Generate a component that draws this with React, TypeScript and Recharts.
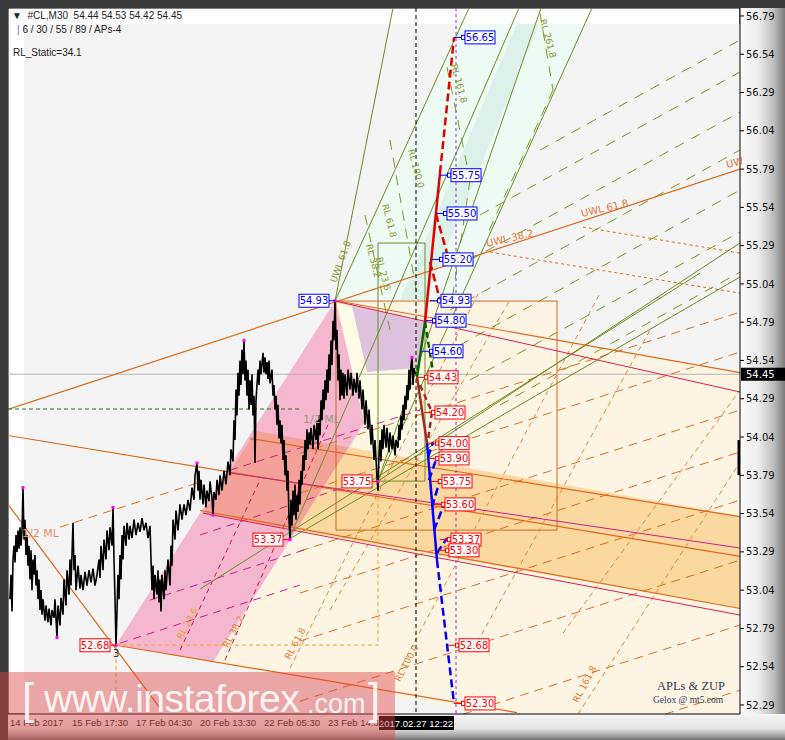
import React from 'react';
import {
  ComposedChart,
  XAxis,
  YAxis,
  Line,
  Area,
  ReferenceLine,
  ReferenceArea,
  ReferenceDot,
} from 'recharts';

// price scale of the window (top / bottom of the plot)
const PRICE_TOP = 56.842;
const PRICE_BOTTOM = 52.231;

const yTicks = [
  56.79, 56.54, 56.29, 56.04, 55.79, 55.54, 55.29, 55.04, 54.79, 54.54, 54.29, 54.04, 53.79, 53.54,
  53.29, 53.04, 52.79, 52.54, 52.29,
];
const xTickPos = [8, 70, 134, 198, 262, 326];
const xTickText = ['14 Feb 2017', '15 Feb 17:30', '17 Feb 04:30', '20 Feb 13:30', '22 Feb 05:30', '23 Feb 14:30'];
const lastPrice = 54.45;

// M30 closes, [bar position, price]
const priceBars: [number, number][] = [
  [10, 52.98], [11, 53.14], [12, 52.9], [13, 53.24], [14, 53.33], [15, 53.22], [16, 53.4], [17, 53.29],
  [18, 53.43], [19, 53.31], [20, 53.45], [21, 53.33], [22, 53.43], [23, 53.71], [24, 53.37], [25, 53.5],
  [26, 53.27], [27, 53.4], [28, 53.2], [29, 53.33], [30, 53.11], [31, 53.3], [32, 53.04], [33, 53.24],
  [34, 53.14], [35, 53.27], [36, 53.07], [37, 53.17], [38, 52.98], [39, 53.11], [40, 52.91], [41, 53.04],
  [42, 52.88], [43, 52.98], [45, 52.84], [46, 52.94], [48, 52.83], [49, 52.92], [51, 52.81], [52, 52.91],
  [54, 52.86], [55, 52.98], [57, 52.73], [58, 52.94], [60, 52.81], [61, 52.99], [63, 52.88], [64, 53.11],
  [66, 52.94], [67, 53.17], [69, 53.01], [70, 53.24], [71, 53.07], [73, 53.48], [74, 53.17], [75, 53.27],
  [76, 53.04], [78, 53.2], [80, 53.05], [81, 53.14], [83, 53.04], [85, 53.16], [87, 53.07], [89, 53.17],
  [91, 53.09], [93, 53.18], [95, 53.07], [97, 53.14], [99, 53.24], [100, 53.12], [101, 53.33], [103, 53.17],
  [104, 53.37], [106, 53.24], [107, 53.43], [109, 53.3], [110, 53.45], [112, 53.33], [113, 53.58], [114, 53.24],
  [115, 52.98], [116, 52.68], [117, 52.91], [118, 53.14], [119, 52.98], [120, 53.27], [121, 53.11], [122, 53.4],
  [123, 53.24], [124, 53.46], [126, 53.33], [127, 53.48], [129, 53.37], [130, 53.46], [132, 53.38], [134, 53.5],
  [136, 53.4], [138, 53.48], [140, 53.42], [142, 53.51], [144, 53.43], [146, 53.48], [148, 53.38], [150, 53.46],
  [151, 53.24], [152, 53.04], [153, 53.2], [154, 52.98], [155, 53.14], [157, 53.01], [158, 53.17], [159, 52.96],
  [160, 53.11], [161, 52.9], [162, 53.14], [164, 52.98], [165, 53.17], [166, 53.04], [168, 53.24], [170, 53.07],
  [171, 53.33], [172, 53.2], [173, 53.5], [175, 53.37], [176, 53.56], [178, 53.43], [180, 53.6], [182, 53.5],
  [184, 53.6], [186, 53.53], [188, 53.63], [190, 53.56], [192, 53.71], [194, 53.63], [195, 53.79], [197, 53.87],
  [198, 53.69], [199, 53.82], [200, 53.63], [201, 53.76], [203, 53.6], [204, 53.73], [206, 53.58], [207, 53.69],
  [209, 53.62], [210, 53.75], [212, 53.64], [213, 53.53], [214, 53.68], [216, 53.63], [217, 53.76], [219, 53.66],
  [220, 53.79], [222, 53.69], [224, 53.82], [226, 53.73], [228, 53.88], [230, 53.79], [231, 53.96], [233, 53.88],
  [234, 54.15], [235, 54.02], [236, 54.35], [237, 54.18], [238, 54.46], [239, 54.31], [240, 54.54], [241, 54.38],
  [242, 54.61], [243, 54.45], [244, 54.67], [245, 54.41], [246, 54.54], [247, 54.31], [248, 54.48], [249, 54.22],
  [250, 54.41], [251, 54.25], [252, 54.45], [253, 54.18], [254, 54.31], [255, 53.87], [256, 54.28], [257, 54.38],
  [258, 54.48], [259, 54.38], [260, 54.54], [261, 54.45], [263, 54.59], [264, 54.46], [265, 54.56], [266, 54.45],
  [267, 54.53], [268, 54.42], [269, 54.54], [270, 54.39], [272, 54.48], [273, 54.31], [274, 54.38], [275, 54.22],
  [276, 54.31], [277, 54.12], [278, 54.25], [279, 54.03], [280, 54.15], [281, 54.0], [282, 54.12], [283, 53.89],
  [284, 54.02], [285, 53.79], [286, 53.92], [287, 53.69], [288, 53.82], [289, 53.5], [290, 53.37], [291, 53.63],
  [292, 53.46], [293, 53.69], [294, 53.53], [295, 53.73], [296, 53.5], [297, 53.66], [298, 53.55], [299, 53.76],
  [300, 53.6], [301, 53.82], [302, 53.73], [303, 53.92], [304, 53.82], [305, 54.02], [306, 53.89], [307, 54.09],
  [308, 53.96], [309, 54.07], [310, 53.99], [311, 54.1], [313, 53.96], [314, 54.12], [316, 54.02], [317, 54.15],
  [318, 53.96], [319, 54.18], [320, 54.05], [321, 54.28], [322, 54.15], [323, 54.35], [324, 54.22], [325, 54.41],
  [326, 54.28], [327, 54.48], [328, 54.33], [329, 54.58], [330, 54.41], [331, 54.67], [332, 54.51], [333, 54.8],
  [334, 54.67], [335, 54.93], [336, 54.61], [337, 54.74], [338, 54.41], [339, 54.58], [340, 54.28], [341, 54.48],
  [342, 54.31], [343, 54.46], [344, 54.29], [345, 54.45], [347, 54.31], [348, 54.48], [350, 54.35], [351, 54.46],
  [353, 54.31], [354, 54.42], [356, 54.33], [357, 54.46], [359, 54.29], [360, 54.41], [362, 54.22], [363, 54.35],
  [365, 54.12], [366, 54.28], [368, 54.09], [369, 54.22], [371, 53.99], [372, 54.12], [374, 53.89], [375, 54.02],
  [377, 53.77], [378, 53.69], [379, 53.92], [380, 54.02], [381, 53.88], [382, 54.09], [383, 53.96], [384, 54.12],
  [386, 53.97], [387, 54.1], [389, 53.94], [390, 54.07], [392, 53.96], [393, 54.05], [395, 53.92], [396, 54.02],
  [398, 53.97], [399, 54.12], [400, 54.02], [401, 54.18], [402, 54.09], [403, 54.25], [404, 54.15], [405, 54.31],
  [406, 54.22], [407, 54.38], [408, 54.28], [409, 54.48], [410, 54.35], [411, 54.51], [412, 54.56], [413, 54.38],
  [414, 54.49], [415, 54.45],
];

// swing points marked on the price
const pivots: [number, number][] = [
  [23, 53.71], [57, 52.73], [113, 53.58], [116, 52.68], [197, 53.87], [213, 53.53], [244, 54.67],
  [290, 53.37], [335, 54.93], [378, 53.75], [412, 54.56],
];

// filled zones, vertices [bar, price]
const creamZone: [number, number][] = [[116, 52.681], [336, 54.928], [557, 54.928], [557.5, 54.68], [740.5, 54.464], [741, 52.1], [600, 52.1]];
const cyanZone: [number, number][] = [[336, 54.934], [463, 56.737], [585, 56.737], [460, 54.934]];
const tealZone: [number, number][] = [[400, 54.934], [517, 56.737], [539, 56.737], [425, 54.934]];
const pinkZone: [number, number][] = [[116, 52.681], [335, 54.928], [428, 54.791], [213, 52.57]];
const salmonZone: [number, number][] = [[203, 53.543], [256, 54.079], [349, 53.974], [296, 53.432]];
const peachZone: [number, number][] = [[296, 53.432], [349, 53.974], [741, 53.524], [742, 52.916]];
const paleZone: [number, number][] = [[336, 54.921], [352, 54.895], [425, 54.49], [426, 54.216], [378, 53.752]];
const lilacZone: [number, number][] = [[352, 54.896], [425, 54.797], [417, 54.49], [367, 54.464]];

// lines: [x1, p1, x2, p2]
const orangeSolid = [
  [8, 54.22, 740, 55.79], [8, 54.05, 740, 53.26], [8, 53.6, 160, 52.27], [116, 52.68, 517, 52.24],
  [200, 53.56, 740, 52.92], [250, 54.03, 740, 53.52], [336, 54.93, 740, 54.46],
];
const orangeDashed = [
  [300, 53.935, 740, 54.856], [300, 53.674, 740, 54.595], [300, 53.295, 740, 54.216], [300, 53.021, 740, 53.942],
  [300, 52.707, 740, 53.628], [300, 52.315, 740, 53.236], [463, 52.23, 740, 52.812], [665, 52.23, 740, 52.387],
  [60, 53.452, 197, 53.739],
];
const uwlDashed = [[490, 55.248, 740, 54.98], [583, 55.411, 740, 55.241]];
const steepOrange = [
  [290, 52.531, 480, 55.0], [330, 52.91, 510, 54.935], [398, 52.498, 600, 54.98], [473, 52.648, 650, 54.739],
  [563, 52.759, 740, 54.347], [578, 52.23, 740, 53.876],
];
const steepCrimson = [[180, 52.648, 260, 53.759], [225, 52.583, 330, 54.151]];
const greenSolid = [
  [335, 54.928, 393, 56.842], [335, 54.928, 469, 56.842], [289, 53.373, 519, 56.842], [378, 53.752, 541, 56.842],
  [378, 53.752, 592, 56.842], [200, 53.047, 700, 55.111], [289, 53.373, 740, 55.085], [378, 53.752, 740, 55.307],
];
const oliveDashed = [
  [540, 55.914, 740, 56.633], [480, 55.49, 740, 56.424], [470, 55.196, 740, 56.162], [450, 54.869, 740, 55.914],
  [460, 54.641, 740, 55.653], [470, 54.412, 740, 55.379], [500, 54.249, 740, 55.117],
  [540, 56.809, 553, 56.306], [553, 56.306, 487, 55.359], [447, 56.456, 470, 55.718], [470, 55.718, 452, 54.935],
  [390, 55.98, 418, 54.935], [365, 55.49, 390, 54.739],
];
const crimsonSolid = [[335, 54.928, 740, 54.334], [203, 53.543, 740, 52.877]];
const magentaSolid = [[230, 53.805, 740, 53.315]];
const magentaDashed = [
  [120, 52.694, 300, 53.073], [150, 52.975, 310, 53.315], [200, 53.4, 360, 53.746], [230, 53.824, 420, 54.216],
];

// projected swing paths
const redUpSolid = [[425, 54.791, 440, 55.764]];
const redUpDashed = [[440, 55.764, 454, 56.65], [436, 55.496, 447, 55.241], [430, 55.183, 440, 54.935]];
const greenPathSolid = [[417, 54.432, 425, 54.791]];
const greenPathDashed = [[425, 54.791, 433, 54.464]];
const brownSolid = [[417, 54.432, 427, 54.0]];
const brownDashed = [[420, 54.379, 432, 54.203], [432, 54.203, 428, 54.02]];
const blueSolid = [[427, 54.0, 437, 53.236]];
const blueDashed = [
  [437, 53.236, 454, 52.3], [428, 53.909, 433, 54.007], [429, 53.759, 437, 53.909], [432, 53.582, 440, 53.759],
  [434, 53.432, 443, 53.582], [437, 53.282, 447, 53.38],
];

// level tags
const blueTags: [number, number][] = [[454, 56.65], [440, 55.75], [436, 55.5], [432, 55.2], [430, 54.93], [425, 54.8], [422, 54.6]];
const redTags: [number, number][] = [
  [417, 54.43], [424, 54.2], [428, 54.0], [428, 53.9], [431, 53.75], [434, 53.6], [440, 53.37], [438, 53.3],
  [448, 52.68], [454, 52.3],
];
const leftTags: [number, number, string][] = [[335, 54.93, 'blue'], [378, 53.75, 'red'], [289, 53.37, 'red'], [116, 52.68, 'red']];

const notes = [
  { x: 303, p: 54.131, t: '1/2 ML', c: '#9c9c84', r: 0, s: 11 },
  { x: 22, p: 53.387, t: '1/2 ML', c: '#e8906a', r: 0, s: 11 },
  { x: 487, p: 55.281, t: 'UWL 38.2', c: '#e0783a', r: -13, s: 10 },
  { x: 582, p: 55.477, t: 'UWL 61.8', c: '#e0783a', r: -13, s: 10 },
  { x: 727, p: 55.797, t: 'UW', c: '#e0783a', r: -13, s: 10 },
  { x: 182, p: 52.714, t: 'RL 23.6', c: '#e8a030', r: -62, s: 9 },
  { x: 228, p: 52.661, t: 'RL 38.2', c: '#e08030', r: -62, s: 9 },
  { x: 290, p: 52.583, t: 'RL 61.8', c: '#e08030', r: -62, s: 9 },
  { x: 400, p: 52.439, t: 'RL 100.0', c: '#e08030', r: -62, s: 9 },
  { x: 578, p: 52.302, t: 'RL 161.8', c: '#e08030', r: -62, s: 9 },
  { x: 408, p: 55.914, t: 'RL 100.0', c: '#8a9a30', r: 75, s: 9 },
  { x: 382, p: 55.555, t: 'RL 61.8', c: '#8a9a30', r: 75, s: 9 },
  { x: 366, p: 55.294, t: 'RL 38.2', c: '#8a9a30', r: 75, s: 9 },
  { x: 376, p: 55.209, t: 'RL 23.6', c: '#8a9a30', r: 75, s: 9 },
  { x: 451, p: 56.469, t: 'RL 161.8', c: '#8a9a30', r: 75, s: 9 },
  { x: 540, p: 56.763, t: 'RL 261.8', c: '#8a9a30', r: 75, s: 9 },
  { x: 336, p: 55.046, t: 'UWL 61.8', c: '#8a9a30', r: -70, s: 9 },
  { x: 113, p: 52.603, t: '3', c: '#223355', r: 0, s: 10 },
];

// turn a polygon that is x-monotone into a range series for <Area>
function zoneData(pts: [number, number][]) {
  const xs = Array.from(new Set(pts.map((p) => p[0]))).sort((a, b) => a - b);
  return xs.map((x) => {
    const hits: number[] = [];
    for (let i = 0; i < pts.length; i++) {
      const [x1, y1] = pts[i];
      const [x2, y2] = pts[(i + 1) % pts.length];
      if (x1 !== x2 && x >= Math.min(x1, x2) && x <= Math.max(x1, x2)) {
        hits.push(y1 + ((y2 - y1) * (x - x1)) / (x2 - x1));
      }
    }
    return { x, r: [Math.min(...hits), Math.max(...hits)] };
  });
}

const priceData = priceBars.map(([x, v]) => ({ x, v }));
const FONT = 'DejaVu Sans, sans-serif';

function segs(list: number[][], stroke: string, width = 1, dash?: string, tag = 's') {
  return list.map((s, i) => (
    <ReferenceLine
      key={tag + i}
      segment={[{ x: s[0], y: s[1] }, { x: s[2], y: s[3] }]}
      stroke={stroke}
      strokeWidth={width}
      strokeDasharray={dash}
      ifOverflow="hidden"
    />
  ));
}

function zone(pts: [number, number][], fill: string, key: string) {
  return (
    <Area
      key={key}
      data={zoneData(pts)}
      dataKey="r"
      type="linear"
      stroke="none"
      fill={fill}
      fillOpacity={1}
      dot={false}
      activeDot={false}
      isAnimationActive={false}
    />
  );
}

function TagRight({ cx, cy, text, color }: any) {
  const bx = cx + 11;
  return (
    <g>
      <line x1={cx} y1={cy} x2={bx} y2={cy} stroke={color} strokeWidth={1} />
      <rect x={bx - 3.5} y={cy - 2} width={3.5} height={4} fill="#fff" stroke={color} strokeWidth={1} />
      <rect x={bx} y={cy - 6.5} width={30} height={13} fill="#fff" stroke={color} strokeWidth={1} />
      <text x={bx + 15} y={cy + 3.6} textAnchor="middle" fontSize={10} fontFamily={FONT} fill={color}>
        {text}
      </text>
    </g>
  );
}

function TagLeft({ cx, cy, text, color }: any) {
  const bx = cx - 36;
  return (
    <g>
      <line x1={bx + 30} y1={cy} x2={cx} y2={cy} stroke={color} strokeWidth={1} />
      <rect x={bx} y={cy - 6.5} width={30} height={13} fill="#fff" stroke={color} strokeWidth={1} />
      <text x={bx + 15} y={cy + 3.6} textAnchor="middle" fontSize={10} fontFamily={FONT} fill={color}>
        {text}
      </text>
    </g>
  );
}

function YTick(props: any) {
  const { y, payload } = props;
  return (
    <g>
      <line x1={740} x2={744} y1={y} y2={y} stroke="#000" />
      <text x={746} y={y + 3.6} fontSize={10} fontFamily={FONT} fill="#101018">
        {Number(payload.value).toFixed(2)}
      </text>
    </g>
  );
}

function XTick(props: any) {
  const { x, payload } = props;
  const i = xTickPos.indexOf(payload.value);
  return (
    <text x={x + 2} y={726} fontSize={9.5} fontFamily="Liberation Sans, Arial, sans-serif" fill="#1a1a1a">
      {xTickText[i]}
    </text>
  );
}

export default function App() {
  return (
    <div style={{ position: 'absolute', left: 0, top: 0, width: 785, height: 740, overflow: 'hidden', background: '#8a8a8a' }}>
      <div style={{ position: 'absolute', left: 0, top: 0, width: 785, height: 8, background: '#3b3b3b' }} />
      <div style={{ position: 'absolute', left: 0, top: 0, width: 8, height: 740, background: '#3b3b3b' }} />
      <div
        style={{
          position: 'absolute', left: 740, top: 8, width: 45, height: 732,
          background: 'linear-gradient(to right,#fbfbfb 0%,#eeeeee 40%,#bdbdbd 75%,#7b7b7b 100%)',
        }}
      />
      <div
        style={{
          position: 'absolute', left: 8, top: 714, width: 777, height: 26,
          background: 'linear-gradient(to bottom,#f6f6f6 0%,#e4e4e4 55%,#a0a0a0 85%,#707070 100%)',
        }}
      />
      <div style={{ position: 'absolute', left: 0, top: 0 }}>
        <ComposedChart width={785} height={740} margin={{ top: 8, right: 0, bottom: 0, left: 8 }}>
          <XAxis
            type="number"
            dataKey="x"
            domain={[8, 740]}
            ticks={xTickPos}
            allowDataOverflow
            height={26}
            tickLine={false}
            axisLine={{ stroke: '#000' }}
            tick={<XTick />}
          />
          <YAxis
            type="number"
            orientation="right"
            domain={[PRICE_BOTTOM, PRICE_TOP]}
            ticks={yTicks}
            allowDataOverflow
            width={45}
            tickLine={false}
            axisLine={{ stroke: '#000' }}
            tick={<YTick />}
          />
          <ReferenceArea x1={8} x2={740} y1={PRICE_BOTTOM} y2={PRICE_TOP} fill="#ffffff" fillOpacity={1} stroke="#000" ifOverflow="hidden" />
          <ReferenceArea x1={24} x2={740} y1={PRICE_BOTTOM} y2={56.737} fill="#f4f4f4" fillOpacity={1} ifOverflow="hidden" />

          {zone(creamZone, '#fdf4e4', 'cream')}
          {zone(cyanZone, '#eefaf4', 'cyan')}
          {zone(tealZone, '#dbf1ea', 'teal')}
          {zone(pinkZone, '#f5b7d0', 'pink')}
          {zone(salmonZone, '#f4a299', 'salmon')}
          {zone(peachZone, '#fbd8a0', 'peach')}
          {zone(paleZone, '#fefce6', 'pale')}
          {zone(lilacZone, '#dcc2dd', 'lilac')}

          <ReferenceArea x1={336} x2={557} y1={53.432} y2={54.928} fill="none" stroke="#d2691e" strokeWidth={1} ifOverflow="hidden" />
          <ReferenceArea x1={378} x2={425} y1={53.752} y2={55.307} fill="none" stroke="#6b8e23" strokeWidth={1} ifOverflow="hidden" />

          <ReferenceLine y={lastPrice} stroke="#b4b4b4" strokeWidth={1} ifOverflow="hidden" />
          {segs(orangeDashed, '#e0701e', 1, '9 6', 'od')}
          {segs(uwlDashed, '#e0701e', 1, '3 3', 'ud')}
          {segs(steepOrange, '#e08a3a', 1, '5 4', 'so')}
          {segs(steepCrimson, '#dc143c', 1, '5 4', 'sc')}
          {segs(oliveDashed, '#7c9a1e', 1, '10 8', 'ol')}
          {segs(magentaDashed, '#d0208a', 1, '8 6', 'md')}
          {segs(greenSolid, '#6b8e23', 1, undefined, 'gs')}
          {segs(orangeSolid, '#e0691c', 1.2, undefined, 'os')}
          {segs(crimsonSolid, '#e0204a', 1, undefined, 'cs')}
          {segs(magentaSolid, '#d0208a', 1, undefined, 'ms')}
          {segs([[8, 54.223, 300, 54.223]], '#1a7a1a', 1, '4 3', 'hl')}
          {segs([[116, 52.681, 378, 52.681], [378, 53.739, 378, 52.681], [116, 52.681, 116, 52.0]], '#ffa020', 1, '4 3', 'oy')}
          {segs([[416, PRICE_TOP, 416, PRICE_BOTTOM]], '#000', 1, '4 3', 'vb')}
          {segs([[456, PRICE_TOP, 456, PRICE_BOTTOM]], '#9932cc', 1, '3 3', 'vp')}
          {segs([[739, 54.02, 739, 53.791]], '#000', 3, undefined, 'lb')}

          <Line
            data={priceData}
            dataKey="v"
            type="linear"
            stroke="#000"
            strokeWidth={1.6}
            dot={false}
            activeDot={false}
            isAnimationActive={false}
          />

          {segs(redUpDashed, '#e00000', 2.5, '8 4', 'rd')}
          {segs(redUpSolid, '#e00000', 2.5, undefined, 'rs')}
          {segs(greenPathDashed, '#006400', 2.5, '6 4', 'gd')}
          {segs(greenPathSolid, '#006400', 2.5, undefined, 'gp')}
          {segs(brownDashed, '#a02828', 2.5, '6 4', 'bd')}
          {segs(brownSolid, '#a02828', 2.5, undefined, 'bs')}
          {segs(blueDashed, '#0000ff', 2.5, '8 4', 'bld')}
          {segs(blueSolid, '#0000ff', 2.5, undefined, 'bls')}

          {pivots.map(([x, p], i) => (
            <ReferenceDot
              key={'pv' + i}
              x={x}
              y={p}
              r={2}
              ifOverflow="visible"
              shape={(d: any) => <rect x={d.cx - 1.5} y={d.cy - 1.5} width={3} height={3} fill="#ff00ff" />}
            />
          ))}
          {notes.map((n, i) => (
            <ReferenceDot
              key={'nt' + i}
              x={n.x}
              y={n.p}
              r={1}
              ifOverflow="visible"
              shape={(d: any) => (
                <text
                  x={d.cx}
                  y={d.cy}
                  fontSize={n.s}
                  fontFamily={FONT}
                  fill={n.c}
                  transform={n.r ? `rotate(${n.r} ${d.cx} ${d.cy})` : undefined}
                >
                  {n.t}
                </text>
              )}
            />
          ))}
          {blueTags.map(([x, p], i) => (
            <ReferenceDot key={'bt' + i} x={x} y={p} r={1} ifOverflow="visible"
              shape={(d: any) => <TagRight cx={d.cx} cy={d.cy} text={p.toFixed(2)} color="#0000ff" />} />
          ))}
          {redTags.map(([x, p], i) => (
            <ReferenceDot key={'rt' + i} x={x} y={p} r={1} ifOverflow="visible"
              shape={(d: any) => <TagRight cx={d.cx} cy={d.cy} text={p.toFixed(2)} color="#ff0000" />} />
          ))}
          {leftTags.map(([x, p, c], i) => (
            <ReferenceDot key={'lt' + i} x={x} y={p} r={1} ifOverflow="visible"
              shape={(d: any) => <TagLeft cx={d.cx} cy={d.cy} text={p.toFixed(2)} color={c === 'blue' ? '#0000ff' : '#ff0000'} />} />
          ))}
          <ReferenceDot x={740} y={lastPrice} r={1} ifOverflow="visible"
            shape={(d: any) => (
              <g>
                <rect x={d.cx + 1} y={d.cy - 6.5} width={44} height={13} fill="#000" />
                <text x={d.cx + 6} y={d.cy + 3.6} fontSize={10} fontFamily={FONT} fill="#fff">{lastPrice.toFixed(2)}</text>
              </g>
            )} />
          <ReferenceDot x={416} y={PRICE_BOTTOM} r={1} ifOverflow="visible"
            shape={(d: any) => (
              <g>
                <rect x={d.cx - 37} y={d.cy + 2} width={75} height={14} fill="#000" />
                <text x={d.cx} y={d.cy + 12.5} textAnchor="middle" fontSize={9.5} fontFamily="Liberation Sans, Arial, sans-serif" fill="#fff">
                  2017.02.27 12:22
                </text>
              </g>
            )} />
        </ComposedChart>
      </div>

      <div style={{ position: 'absolute', left: 12, top: 10, fontSize: 10, fontFamily: 'Liberation Sans, Arial, sans-serif', color: '#222', whiteSpace: 'pre' }}>
        {'▼  #CL,M30  54.44 54.53 54.42 54.45'}
      </div>
      <div style={{ position: 'absolute', left: 17, top: 24, fontSize: 10, fontFamily: 'Liberation Sans, Arial, sans-serif', color: '#222', whiteSpace: 'pre' }}>
        <span style={{ color: '#3a7acf' }}>|</span>
        {' 6 / 30 / 55 / 89 / APs-4'}
      </div>
      <div style={{ position: 'absolute', left: 13, top: 47, fontSize: 10, fontFamily: 'Liberation Sans, Arial, sans-serif', color: '#222' }}>
        RL_Static=34.1
      </div>
      <div style={{ position: 'absolute', left: 657, top: 679, fontSize: 12.5, fontFamily: 'Liberation Serif, DejaVu Serif, serif', color: '#34405a' }}>
        APLs &amp; ZUP
      </div>
      <div style={{ position: 'absolute', left: 653, top: 695, fontSize: 9.5, fontFamily: 'Liberation Serif, DejaVu Serif, serif', color: '#34405a' }}>
        Gelox @ mt5.com
      </div>

      <div style={{ position: 'absolute', left: 0, top: 672, width: 395, height: 68, background: 'rgba(222,72,72,0.45)' }}>
        <div style={{ position: 'absolute', left: 22, top: 2, fontSize: 44, fontFamily: 'Liberation Sans, Arial, sans-serif', color: 'rgba(255,255,255,0.9)', lineHeight: '50px' }}>
          [
        </div>
        <div style={{ position: 'absolute', left: 44, top: 4, fontSize: 39, fontFamily: 'Liberation Sans, Arial, sans-serif', color: 'rgba(255,255,255,0.9)', lineHeight: '46px', letterSpacing: -0.5 }}>
          www.instaforex
        </div>
        <div style={{ position: 'absolute', left: 307, top: 14, fontSize: 27, fontFamily: 'Liberation Sans, Arial, sans-serif', color: 'rgba(255,255,255,0.9)', lineHeight: '36px' }}>
          .com
        </div>
        <div style={{ position: 'absolute', left: 368, top: 2, fontSize: 44, fontFamily: 'Liberation Sans, Arial, sans-serif', color: 'rgba(255,255,255,0.9)', lineHeight: '50px' }}>
          ]
        </div>
      </div>
    </div>
  );
}
